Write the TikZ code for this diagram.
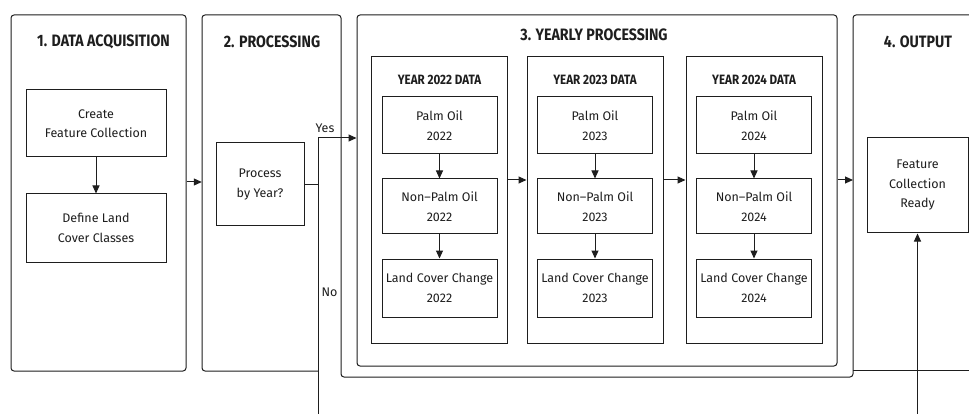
\documentclass[tikz,border=0pt]{standalone}
\usepackage{fontspec}
\setmainfont{Fira Sans}
\newfontfamily\headfont[FakeStretch=0.86]{Fira Sans}
\usepackage{xcolor}
\usepackage{tikz}
\usetikzlibrary{arrows.meta}

\definecolor{ink}{HTML}{1E1E1E}

\begin{document}
\begin{tikzpicture}[x=1pt,y=-1pt,
  panel/.style={draw=ink,line width=1pt,rounded corners=3pt},
  frame/.style={draw=ink,line width=1pt},
  box/.style={draw=ink,line width=1pt,align=center,inner sep=0pt,text=ink,
    font=\fontsize{12.5}{19.5}\selectfont},
  stage/.style={font=\headfont\bfseries\fontsize{16.5}{18}\selectfont,text=ink},
  yeartitle/.style={font=\headfont\bfseries\fontsize{13.5}{15}\selectfont,text=ink},
  note/.style={font=\fontsize{12.5}{14}\selectfont,text=ink},
  link/.style={-{Triangle[length=8pt,width=7pt]},draw=ink,line width=1pt}]
\useasboundingbox (0,0) rectangle (969,414);
\clip (0,0) rectangle (969,414);
\fill[white] (0,0) rectangle (969,414);

% stage panels
\node[panel,minimum width=175,minimum height=356] (p1) at (98.5,193) {};
\node[minimum width=139,minimum height=356] (p2) at (271.5,193) {};
\node[panel,minimum width=480,minimum height=351] (p3) at (597,190.5) {};
\draw[panel] (318,371) -- (202,371) -- (202,15) -- (341,15) -- (341,377)
  -- (853,377) -- (853,15) -- (1000,15);
\draw[frame] (853,370) -- (1000,370);
\coordinate (p4w) at (853,180);

\node[stage] (t1) at (103.5,42) {1. DATA ACQUISITION};
\node[stage] (t2) at (272,42) {2. PROCESSING};
\node[stage] (t3) at (594,35) {3. YEARLY PROCESSING};
\node[stage] (t4) at (918,42) {4. OUTPUT};

% acquisition
\node[box,minimum width=140,minimum height=67] (create) at (96,123.5) {Create\\Feature Collection};
\node[box,minimum width=140,minimum height=68] (define) at (96,228) {Define Land\\Cover Classes};
\draw[link] (create) -- (define);
\draw[link] ([yshift=11pt]p1.east) -- ([yshift=11pt]p2.west);

% output
\node[box,minimum width=101,minimum height=95] (ready) at (917.5,185.5) {Feature\\Collection\\Ready};

% decision
\node[box,minimum width=88,minimum height=83] (decide) at (260,184.5) {Process\\by Year?};
\coordinate (split) at (318,184.5);
\draw[link] (decide.east) -- (split) |- ([yshift=52.5pt]p3.west);
\draw[link] (split) -- ++(0,250) -| (ready.south);
\node[note] (yes) at (325,128) {Yes};
\node[note] (no) at (329.5,292) {No};

% one column per year
\foreach \yr/\cx in {2022/439.5,2023/595,2024/754}{
  \node[frame,minimum width=136,minimum height=286] (y\yr) at (\cx,200) {};
  \node[yeartitle] (yt\yr) at (\cx,80) {YEAR \yr\ DATA};
  \node[box,minimum width=115,minimum height=57] (palm\yr) at (\cx,125.5) {Palm Oil\\\yr};
  \node[box,minimum width=115,minimum height=55] (non\yr) at (\cx,206.5) {Non–Palm Oil\\\yr};
  \node[box,minimum width=115,minimum height=58] (lcc\yr) at (\cx,288) {Land Cover Change\\\yr};
  \draw[link] (palm\yr) -- (non\yr);
  \draw[link] (non\yr) -- (lcc\yr);
}
\draw[link] ([yshift=20pt]y2022.east) -- ([yshift=20pt]y2023.west);
\draw[link] ([yshift=20pt]y2023.east) -- ([yshift=20pt]y2024.west);
\draw[link] ([yshift=10.5pt]p3.east) -- (p4w);
\end{tikzpicture}
\end{document}
